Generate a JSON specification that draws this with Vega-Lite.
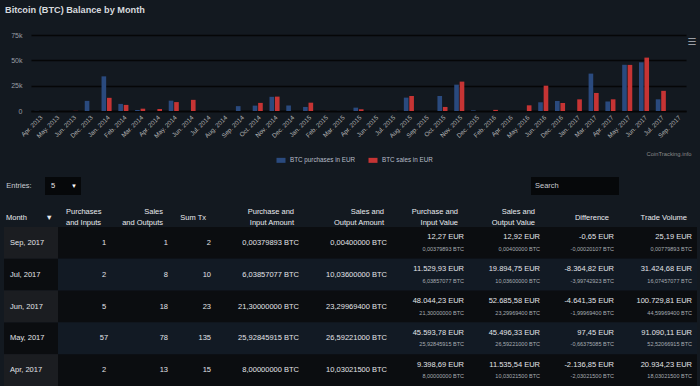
{
  "$schema": "https://vega.github.io/schema/vega-lite/v6.json",
  "background": "#131920",
  "padding": {"left": 3, "top": 5, "right": 4, "bottom": 0},
  "config": {
    "view": {"stroke": null},
    "font": "Liberation Sans"
  },
  "columns": 1,
  "spacing": 13,
  "resolve": {"scale": {"color": "independent", "fill": "independent"}, "legend": {"color": "independent", "fill": "independent"}},
  "datasets": {
    "bars": [
      {"month": "Apr. 2013", "series": "BTC purchases in EUR", "eur": 150},
      {"month": "Apr. 2013", "series": "BTC sales in EUR", "eur": 0},
      {"month": "May. 2013", "series": "BTC purchases in EUR", "eur": 120},
      {"month": "May. 2013", "series": "BTC sales in EUR", "eur": 0},
      {"month": "Jun. 2013", "series": "BTC purchases in EUR", "eur": 0},
      {"month": "Jun. 2013", "series": "BTC sales in EUR", "eur": 150},
      {"month": "Dec. 2013", "series": "BTC purchases in EUR", "eur": 10000},
      {"month": "Dec. 2013", "series": "BTC sales in EUR", "eur": 0},
      {"month": "Jan. 2014", "series": "BTC purchases in EUR", "eur": 34200},
      {"month": "Jan. 2014", "series": "BTC sales in EUR", "eur": 13000},
      {"month": "Feb. 2014", "series": "BTC purchases in EUR", "eur": 7000},
      {"month": "Feb. 2014", "series": "BTC sales in EUR", "eur": 6000},
      {"month": "Mar. 2014", "series": "BTC purchases in EUR", "eur": 1000},
      {"month": "Mar. 2014", "series": "BTC sales in EUR", "eur": 2300},
      {"month": "Apr. 2014", "series": "BTC purchases in EUR", "eur": 0},
      {"month": "Apr. 2014", "series": "BTC sales in EUR", "eur": 2000},
      {"month": "May. 2014", "series": "BTC purchases in EUR", "eur": 10200},
      {"month": "May. 2014", "series": "BTC sales in EUR", "eur": 8800},
      {"month": "Jun. 2014", "series": "BTC purchases in EUR", "eur": 0},
      {"month": "Jun. 2014", "series": "BTC sales in EUR", "eur": 11000},
      {"month": "Jul. 2014", "series": "BTC purchases in EUR", "eur": 100},
      {"month": "Jul. 2014", "series": "BTC sales in EUR", "eur": 0},
      {"month": "Aug. 2014", "series": "BTC purchases in EUR", "eur": 100},
      {"month": "Aug. 2014", "series": "BTC sales in EUR", "eur": 0},
      {"month": "Sep. 2014", "series": "BTC purchases in EUR", "eur": 4800},
      {"month": "Sep. 2014", "series": "BTC sales in EUR", "eur": 0},
      {"month": "Oct. 2014", "series": "BTC purchases in EUR", "eur": 5300},
      {"month": "Oct. 2014", "series": "BTC sales in EUR", "eur": 8000},
      {"month": "Nov. 2014", "series": "BTC purchases in EUR", "eur": 14000},
      {"month": "Nov. 2014", "series": "BTC sales in EUR", "eur": 14200},
      {"month": "Dec. 2014", "series": "BTC purchases in EUR", "eur": 5500},
      {"month": "Dec. 2014", "series": "BTC sales in EUR", "eur": 0},
      {"month": "Jan. 2015", "series": "BTC purchases in EUR", "eur": 4000},
      {"month": "Jan. 2015", "series": "BTC sales in EUR", "eur": 8200},
      {"month": "Feb. 2015", "series": "BTC purchases in EUR", "eur": 0},
      {"month": "Feb. 2015", "series": "BTC sales in EUR", "eur": 100},
      {"month": "Mar. 2015", "series": "BTC purchases in EUR", "eur": 100},
      {"month": "Mar. 2015", "series": "BTC sales in EUR", "eur": 0},
      {"month": "Apr. 2015", "series": "BTC purchases in EUR", "eur": 3300},
      {"month": "Apr. 2015", "series": "BTC sales in EUR", "eur": 1700},
      {"month": "Jun. 2015", "series": "BTC purchases in EUR", "eur": 100},
      {"month": "Jun. 2015", "series": "BTC sales in EUR", "eur": 0},
      {"month": "Jul. 2015", "series": "BTC purchases in EUR", "eur": 0},
      {"month": "Jul. 2015", "series": "BTC sales in EUR", "eur": 100},
      {"month": "Aug. 2015", "series": "BTC purchases in EUR", "eur": 13200},
      {"month": "Aug. 2015", "series": "BTC sales in EUR", "eur": 14800},
      {"month": "Sep. 2015", "series": "BTC purchases in EUR", "eur": 100},
      {"month": "Sep. 2015", "series": "BTC sales in EUR", "eur": 0},
      {"month": "Oct. 2015", "series": "BTC purchases in EUR", "eur": 14800},
      {"month": "Oct. 2015", "series": "BTC sales in EUR", "eur": 4000},
      {"month": "Nov. 2015", "series": "BTC purchases in EUR", "eur": 26000},
      {"month": "Nov. 2015", "series": "BTC sales in EUR", "eur": 29000},
      {"month": "Dec. 2015", "series": "BTC purchases in EUR", "eur": 600},
      {"month": "Dec. 2015", "series": "BTC sales in EUR", "eur": 0},
      {"month": "Feb. 2016", "series": "BTC purchases in EUR", "eur": 0},
      {"month": "Feb. 2016", "series": "BTC sales in EUR", "eur": 1100},
      {"month": "Apr. 2016", "series": "BTC purchases in EUR", "eur": 100},
      {"month": "Apr. 2016", "series": "BTC sales in EUR", "eur": 0},
      {"month": "May. 2016", "series": "BTC purchases in EUR", "eur": 0},
      {"month": "May. 2016", "series": "BTC sales in EUR", "eur": 5600},
      {"month": "Jun. 2016", "series": "BTC purchases in EUR", "eur": 8600},
      {"month": "Jun. 2016", "series": "BTC sales in EUR", "eur": 25000},
      {"month": "Dec. 2016", "series": "BTC purchases in EUR", "eur": 9900},
      {"month": "Dec. 2016", "series": "BTC sales in EUR", "eur": 7900},
      {"month": "Jan. 2017", "series": "BTC purchases in EUR", "eur": 0},
      {"month": "Jan. 2017", "series": "BTC sales in EUR", "eur": 11500},
      {"month": "Mar. 2017", "series": "BTC purchases in EUR", "eur": 36900},
      {"month": "Mar. 2017", "series": "BTC sales in EUR", "eur": 17800},
      {"month": "Apr. 2017", "series": "BTC purchases in EUR", "eur": 9398.69},
      {"month": "Apr. 2017", "series": "BTC sales in EUR", "eur": 11535.54},
      {"month": "May. 2017", "series": "BTC purchases in EUR", "eur": 45593.78},
      {"month": "May. 2017", "series": "BTC sales in EUR", "eur": 45496.33},
      {"month": "Jun. 2017", "series": "BTC purchases in EUR", "eur": 48044.23},
      {"month": "Jun. 2017", "series": "BTC sales in EUR", "eur": 52685.58},
      {"month": "Jul. 2017", "series": "BTC purchases in EUR", "eur": 11529.93},
      {"month": "Jul. 2017", "series": "BTC sales in EUR", "eur": 19894.75},
      {"month": "Sep. 2017", "series": "BTC purchases in EUR", "eur": 12.27},
      {"month": "Sep. 2017", "series": "BTC sales in EUR", "eur": 12.92}
    ],
    "table": [
      {"month": "Sep, 2017", "pin": 1, "sout": 1, "tx": 2, "pamt": "0,00379893 BTC", "samt": "0,00400000 BTC", "pval": "12,27 EUR", "pvalb": "0,00379893 BTC", "sval": "12,92 EUR", "svalb": "0,00400000 BTC", "diff": "-0,65 EUR", "diffb": "-0,00020107 BTC", "vol": "25,19 EUR", "volb": "0,00779893 BTC"},
      {"month": "Jul, 2017", "pin": 2, "sout": 8, "tx": 10, "pamt": "6,03857077 BTC", "samt": "10,03600000 BTC", "pval": "11.529,93 EUR", "pvalb": "6,03857077 BTC", "sval": "19.894,75 EUR", "svalb": "10,03600000 BTC", "diff": "-8.364,82 EUR", "diffb": "-3,99742923 BTC", "vol": "31.424,68 EUR", "volb": "16,07457077 BTC"},
      {"month": "Jun, 2017", "pin": 5, "sout": 18, "tx": 23, "pamt": "21,30000000 BTC", "samt": "23,29969400 BTC", "pval": "48.044,23 EUR", "pvalb": "21,30000000 BTC", "sval": "52.685,58 EUR", "svalb": "23,29969400 BTC", "diff": "-4.641,35 EUR", "diffb": "-1,99969400 BTC", "vol": "100.729,81 EUR", "volb": "44,59969400 BTC"},
      {"month": "May, 2017", "pin": 57, "sout": 78, "tx": 135, "pamt": "25,92845915 BTC", "samt": "26,59221000 BTC", "pval": "45.593,78 EUR", "pvalb": "25,92845915 BTC", "sval": "45.496,33 EUR", "svalb": "26,59221000 BTC", "diff": "97,45 EUR", "diffb": "-0,66375085 BTC", "vol": "91.090,11 EUR", "volb": "52,52066915 BTC"},
      {"month": "Apr, 2017", "pin": 2, "sout": 13, "tx": 15, "pamt": "8,00000000 BTC", "samt": "10,03021500 BTC", "pval": "9.398,69 EUR", "pvalb": "8,00000000 BTC", "sval": "11.535,54 EUR", "svalb": "10,03021500 BTC", "diff": "-2.136,85 EUR", "diffb": "-2,03021500 BTC", "vol": "20.934,23 EUR", "volb": "18,03021500 BTC"}
    ]
  },
  "concat": [
    {
      "spacing": 0,
      "hconcat": [
        {"data": {"values": [{}]}, "width": 1, "height": 76, "mark": {"type": "text", "text": ""}},
        {
          "width": 655,
          "height": 76,
          "title": {"text": "Bitcoin (BTC) Balance by Month", "anchor": "start", "frame": "group", "dx": -26, "offset": 16, "fontSize": 9.2, "fontWeight": "bold", "color": "#d6d9de"},
          "layer": [
            {
              "data": {"name": "bars"},
              "mark": {"type": "bar"},
              "encoding": {
                "x": {
                  "field": "month", "type": "nominal", "sort": null,
                  "scale": {"paddingInner": 0.4, "paddingOuter": 0.2},
                  "axis": {"labelAngle": -45, "labelFontSize": 6.3, "labelColor": "#b4b4b4", "ticks": false, "domainColor": "#050505", "domainWidth": 1.5, "labelPadding": 3,
                           "title": "CoinTracking.info", "titleX": 660, "titleAlign": "right", "titleFontSize": 5.8, "titleFontWeight": "normal", "titleColor": "#8a8a8a", "titlePadding": 12}
                },
                "xOffset": {"field": "series", "type": "nominal", "scale": {"paddingInner": 0.15}},
                "y": {
                  "field": "eur", "type": "quantitative",
                  "scale": {"domain": [0, 75000]},
                  "axis": {"values": [0, 25000, 50000, 75000], "labelExpr": "datum.value == 0 ? '0' : (datum.value / 1000) + 'k'", "title": null, "domain": false, "ticks": false,
                           "gridColor": "#050607", "gridWidth": 1.5, "labelFontSize": 7, "labelColor": "#9a9ea5", "labelPadding": 9}
                },
                "color": {
                  "field": "series", "type": "nominal",
                  "scale": {"domain": ["BTC purchases in EUR", "BTC sales in EUR"], "range": ["#2a4a7e", "#c63434"]},
                  "legend": {"title": null, "orient": "none", "direction": "horizontal", "legendX": 272, "legendY": 120,
                             "symbolType": "M-0.9,-0.5H0.9V0.5H-0.9Z", "symbolSize": 100, "symbolStrokeWidth": 0, "symbolOpacity": 1,
                             "labelFontSize": 6.3, "labelColor": "#b6bdc8", "columnPadding": 12, "labelOffset": 4}
                }
              }
            },
            {
              "data": {"values": [{}]},
              "mark": {"type": "text", "text": "☰", "x": "width", "dx": 6, "y": 0, "dy": 7, "fontSize": 10, "color": "#9a9ea5", "font": "DejaVu Sans"}
            }
          ]
        }
      ]
    },
    {
      "data": {"values": [{}]},
      "spacing": 527,
      "bounds": "flush",
      "hconcat": [
        {
          "spacing": 11,
          "bounds": "flush",
          "hconcat": [
            {"width": 30, "height": 18, "mark": {"type": "text", "text": "Entries:", "fontSize": 7.5, "color": "#c8ccd2"}},
            {"width": 36, "height": 18, "view": {"fill": "#06080a"},
             "layer": [
               {"mark": {"type": "text", "text": "5", "fontSize": 7.5, "color": "#e6e6e6", "dx": -10}},
               {"mark": {"type": "text", "text": "▼", "fontSize": 6, "color": "#ffffff", "dx": 11}}
             ]}
          ]
        },
        {"width": 88, "height": 18, "view": {"fill": "#06080a"},
         "mark": {"type": "text", "text": "Search", "fontSize": 7.5, "color": "#c8ccd2", "align": "left", "dx": -40}}
      ]
    },
    {
      "data": {"name": "table"},
      "spacing": 0,
      "bounds": "flush",
      "resolve": {"scale": {"fill": "independent", "y": "shared"}},
      "hconcat": [
        {
          "width": 54, "height": 159,
          "title": {"text": "Month\u00a0\u00a0\u00a0\u00a0\u00a0\u00a0\u00a0\u00a0\u00a0▼", "anchor": "start", "frame": "group", "dx": 2, "dy": -5.5, "fontSize": 7.5, "fontWeight": "normal", "color": "#e8eaee", "offset": 0},
          "layer": [
            {"mark": {"type": "rect"}, "encoding": {
              "y": {"field": "month", "type": "nominal", "sort": null, "axis": null, "scale": {"paddingInner": 0, "paddingOuter": 0}},
              "fill": {"field": "month", "type": "nominal", "sort": null, "legend": null,
                       "scale": {"domain": ["Sep, 2017", "Jul, 2017", "Jun, 2017", "May, 2017", "Apr, 2017"], "range": ["#1b1d21", "#0b0d10", "#1b1d21", "#0b0d10", "#1b1d21"]}}}},
            {"mark": {"type": "text", "align": "left", "x": 0, "dx": 6, "fontSize": 7.5, "color": "#e2e4e8"}, "encoding": {
              "y": {"field": "month", "type": "nominal", "sort": null},
              "text": {"field": "month"}}},
            {"mark": {"type": "rule", "x": 0, "y": 0, "y2": "height", "color": "#6a6e74"}, "encoding": {}},
            {"mark": {"type": "rule", "y": "height", "x": 0, "x2": "width", "color": "#8a8e94", "strokeWidth": 1.5}, "encoding": {}}
          ]
        },
        {
          "width": 68, "height": 159,
          "title": {"text": ["Purchases", "and Inputs"], "anchor": "start", "frame": "group", "dx": 8, "fontSize": 7.5, "lineHeight": 11, "fontWeight": "normal", "color": "#e8eaee", "offset": 0},
          "layer": [
            {"mark": {"type": "rect"}, "encoding": {
              "y": {"field": "month", "type": "nominal", "sort": null, "axis": null},
              "fill": {"field": "month", "type": "nominal", "sort": null, "legend": null,
                       "scale": {"domain": ["Sep, 2017", "Jul, 2017", "Jun, 2017", "May, 2017", "Apr, 2017"], "range": ["#0b0d10", "#121a24", "#0b0d10", "#121a24", "#0b0d10"]}}}},
            {"mark": {"type": "text", "align": "center", "x": "width", "dx": -22, "fontSize": 7.5, "color": "#e2e4e8"}, "encoding": {
              "y": {"field": "month", "type": "nominal", "sort": null},
              "text": {"field": "pin", "type": "quantitative"}}},
            {"mark": {"type": "rule", "y": "height", "x": 0, "x2": "width", "color": "#8a8e94", "strokeWidth": 1.5}, "encoding": {}}
          ]
        },
        {
          "width": 47, "height": 159,
          "title": {"text": ["Sales", "and Outputs"], "anchor": "end", "align": "right", "frame": "group", "dx": -10, "fontSize": 7.5, "lineHeight": 11, "fontWeight": "normal", "color": "#e8eaee", "offset": 0},
          "layer": [
            {"mark": {"type": "rect"}, "encoding": {
              "y": {"field": "month", "type": "nominal", "sort": null, "axis": null},
              "fill": {"field": "month", "type": "nominal", "sort": null, "legend": null,
                       "scale": {"domain": ["Sep, 2017", "Jul, 2017", "Jun, 2017", "May, 2017", "Apr, 2017"], "range": ["#0b0d10", "#121a24", "#0b0d10", "#121a24", "#0b0d10"]}}}},
            {"mark": {"type": "text", "align": "right", "x": "width", "dx": -5, "fontSize": 7.5, "color": "#e2e4e8"}, "encoding": {
              "y": {"field": "month", "type": "nominal", "sort": null},
              "text": {"field": "sout", "type": "quantitative"}}},
            {"mark": {"type": "rule", "y": "height", "x": 0, "x2": "width", "color": "#8a8e94", "strokeWidth": 1.5}, "encoding": {}}
          ]
        },
        {
          "width": 43, "height": 159,
          "title": {"text": "Sum Tx", "anchor": "end", "align": "right", "frame": "group", "dx": -10, "dy": -5.5, "fontSize": 7.5, "fontWeight": "normal", "color": "#e8eaee", "offset": 0},
          "layer": [
            {"mark": {"type": "rect"}, "encoding": {
              "y": {"field": "month", "type": "nominal", "sort": null, "axis": null},
              "fill": {"field": "month", "type": "nominal", "sort": null, "legend": null,
                       "scale": {"domain": ["Sep, 2017", "Jul, 2017", "Jun, 2017", "May, 2017", "Apr, 2017"], "range": ["#0b0d10", "#121a24", "#0b0d10", "#121a24", "#0b0d10"]}}}},
            {"mark": {"type": "text", "align": "right", "x": "width", "dx": -5, "fontSize": 7.5, "color": "#e2e4e8"}, "encoding": {
              "y": {"field": "month", "type": "nominal", "sort": null},
              "text": {"field": "tx", "type": "quantitative"}}},
            {"mark": {"type": "rule", "y": "height", "x": 0, "x2": "width", "color": "#8a8e94", "strokeWidth": 1.5}, "encoding": {}}
          ]
        },
        {
          "width": 88, "height": 159,
          "title": {"text": ["Purchase and", "Input Amount"], "anchor": "end", "align": "right", "frame": "group", "dx": -10, "fontSize": 7.5, "lineHeight": 11, "fontWeight": "normal", "color": "#e8eaee", "offset": 0},
          "layer": [
            {"mark": {"type": "rect"}, "encoding": {
              "y": {"field": "month", "type": "nominal", "sort": null, "axis": null},
              "fill": {"field": "month", "type": "nominal", "sort": null, "legend": null,
                       "scale": {"domain": ["Sep, 2017", "Jul, 2017", "Jun, 2017", "May, 2017", "Apr, 2017"], "range": ["#0b0d10", "#121a24", "#0b0d10", "#121a24", "#0b0d10"]}}}},
            {"mark": {"type": "text", "align": "right", "x": "width", "dx": -5, "fontSize": 7.5, "color": "#e2e4e8"}, "encoding": {
              "y": {"field": "month", "type": "nominal", "sort": null},
              "text": {"field": "pamt"}}},
            {"mark": {"type": "rule", "y": "height", "x": 0, "x2": "width", "color": "#8a8e94", "strokeWidth": 1.5}, "encoding": {}}
          ]
        },
        {
          "width": 88, "height": 159,
          "title": {"text": ["Sales and", "Output Amount"], "anchor": "end", "align": "right", "frame": "group", "dx": -8, "fontSize": 7.5, "lineHeight": 11, "fontWeight": "normal", "color": "#e8eaee", "offset": 0},
          "layer": [
            {"mark": {"type": "rect"}, "encoding": {
              "y": {"field": "month", "type": "nominal", "sort": null, "axis": null},
              "fill": {"field": "month", "type": "nominal", "sort": null, "legend": null,
                       "scale": {"domain": ["Sep, 2017", "Jul, 2017", "Jun, 2017", "May, 2017", "Apr, 2017"], "range": ["#0b0d10", "#121a24", "#0b0d10", "#121a24", "#0b0d10"]}}}},
            {"mark": {"type": "text", "align": "right", "x": "width", "dx": -5, "fontSize": 7.5, "color": "#e2e4e8"}, "encoding": {
              "y": {"field": "month", "type": "nominal", "sort": null},
              "text": {"field": "samt"}}},
            {"mark": {"type": "rule", "y": "height", "x": 0, "x2": "width", "color": "#8a8e94", "strokeWidth": 1.5}, "encoding": {}}
          ]
        },
        {
          "width": 77, "height": 159,
          "title": {"text": ["Purchase and", "Input Value"], "anchor": "end", "align": "right", "frame": "group", "dx": -11, "fontSize": 7.5, "lineHeight": 11, "fontWeight": "normal", "color": "#e8eaee", "offset": 0},
          "layer": [
            {"mark": {"type": "rect"}, "encoding": {
              "y": {"field": "month", "type": "nominal", "sort": null, "axis": null},
              "fill": {"field": "month", "type": "nominal", "sort": null, "legend": null,
                       "scale": {"domain": ["Sep, 2017", "Jul, 2017", "Jun, 2017", "May, 2017", "Apr, 2017"], "range": ["#0b0d10", "#121a24", "#0b0d10", "#121a24", "#0b0d10"]}}}},
            {"mark": {"type": "text", "align": "right", "x": "width", "dx": -5, "dy": -5.5, "fontSize": 7.5, "color": "#e2e4e8"}, "encoding": {
              "y": {"field": "month", "type": "nominal", "sort": null},
              "text": {"field": "pval"}}},
            {"mark": {"type": "text", "align": "right", "x": "width", "dx": -5, "dy": 6, "fontSize": 5.5, "color": "#a8acb2"}, "encoding": {
              "y": {"field": "month", "type": "nominal", "sort": null},
              "text": {"field": "pvalb"}}},
            {"mark": {"type": "rule", "y": "height", "x": 0, "x2": "width", "color": "#8a8e94", "strokeWidth": 1.5}, "encoding": {}}
          ]
        },
        {
          "width": 76, "height": 159,
          "title": {"text": ["Sales and", "Output Value"], "anchor": "end", "align": "right", "frame": "group", "dx": -10, "fontSize": 7.5, "lineHeight": 11, "fontWeight": "normal", "color": "#e8eaee", "offset": 0},
          "layer": [
            {"mark": {"type": "rect"}, "encoding": {
              "y": {"field": "month", "type": "nominal", "sort": null, "axis": null},
              "fill": {"field": "month", "type": "nominal", "sort": null, "legend": null,
                       "scale": {"domain": ["Sep, 2017", "Jul, 2017", "Jun, 2017", "May, 2017", "Apr, 2017"], "range": ["#0b0d10", "#121a24", "#0b0d10", "#121a24", "#0b0d10"]}}}},
            {"mark": {"type": "text", "align": "right", "x": "width", "dx": -5, "dy": -5.5, "fontSize": 7.5, "color": "#e2e4e8"}, "encoding": {
              "y": {"field": "month", "type": "nominal", "sort": null},
              "text": {"field": "sval"}}},
            {"mark": {"type": "text", "align": "right", "x": "width", "dx": -5, "dy": 6, "fontSize": 5.5, "color": "#a8acb2"}, "encoding": {
              "y": {"field": "month", "type": "nominal", "sort": null},
              "text": {"field": "svalb"}}},
            {"mark": {"type": "rule", "y": "height", "x": 0, "x2": "width", "color": "#8a8e94", "strokeWidth": 1.5}, "encoding": {}}
          ]
        },
        {
          "width": 74, "height": 159,
          "title": {"text": "Difference", "anchor": "end", "align": "right", "frame": "group", "dx": -10, "dy": -5.5, "fontSize": 7.5, "fontWeight": "normal", "color": "#e8eaee", "offset": 0},
          "layer": [
            {"mark": {"type": "rect"}, "encoding": {
              "y": {"field": "month", "type": "nominal", "sort": null, "axis": null},
              "fill": {"field": "month", "type": "nominal", "sort": null, "legend": null,
                       "scale": {"domain": ["Sep, 2017", "Jul, 2017", "Jun, 2017", "May, 2017", "Apr, 2017"], "range": ["#0b0d10", "#121a24", "#0b0d10", "#121a24", "#0b0d10"]}}}},
            {"mark": {"type": "text", "align": "right", "x": "width", "dx": -5, "dy": -5.5, "fontSize": 7.5, "color": "#e2e4e8"}, "encoding": {
              "y": {"field": "month", "type": "nominal", "sort": null},
              "text": {"field": "diff"}}},
            {"mark": {"type": "text", "align": "right", "x": "width", "dx": -5, "dy": 6, "fontSize": 5.5, "color": "#a8acb2"}, "encoding": {
              "y": {"field": "month", "type": "nominal", "sort": null},
              "text": {"field": "diffb"}}},
            {"mark": {"type": "rule", "y": "height", "x": 0, "x2": "width", "color": "#8a8e94", "strokeWidth": 1.5}, "encoding": {}}
          ]
        },
        {
          "width": 78, "height": 159,
          "title": {"text": "Trade Volume", "anchor": "end", "align": "right", "frame": "group", "dx": -10, "dy": -5.5, "fontSize": 7.5, "fontWeight": "normal", "color": "#e8eaee", "offset": 0},
          "layer": [
            {"mark": {"type": "rect"}, "encoding": {
              "y": {"field": "month", "type": "nominal", "sort": null, "axis": null},
              "fill": {"field": "month", "type": "nominal", "sort": null, "legend": null,
                       "scale": {"domain": ["Sep, 2017", "Jul, 2017", "Jun, 2017", "May, 2017", "Apr, 2017"], "range": ["#0b0d10", "#121a24", "#0b0d10", "#121a24", "#0b0d10"]}}}},
            {"mark": {"type": "text", "align": "right", "x": "width", "dx": -5, "dy": -5.5, "fontSize": 7.5, "color": "#e2e4e8"}, "encoding": {
              "y": {"field": "month", "type": "nominal", "sort": null},
              "text": {"field": "vol"}}},
            {"mark": {"type": "text", "align": "right", "x": "width", "dx": -5, "dy": 6, "fontSize": 5.5, "color": "#a8acb2"}, "encoding": {
              "y": {"field": "month", "type": "nominal", "sort": null},
              "text": {"field": "volb"}}},
            {"mark": {"type": "rule", "y": "height", "x": 0, "x2": "width", "color": "#8a8e94", "strokeWidth": 1.5}, "encoding": {}}
          ]
        }
      ]
    }
  ]
}
